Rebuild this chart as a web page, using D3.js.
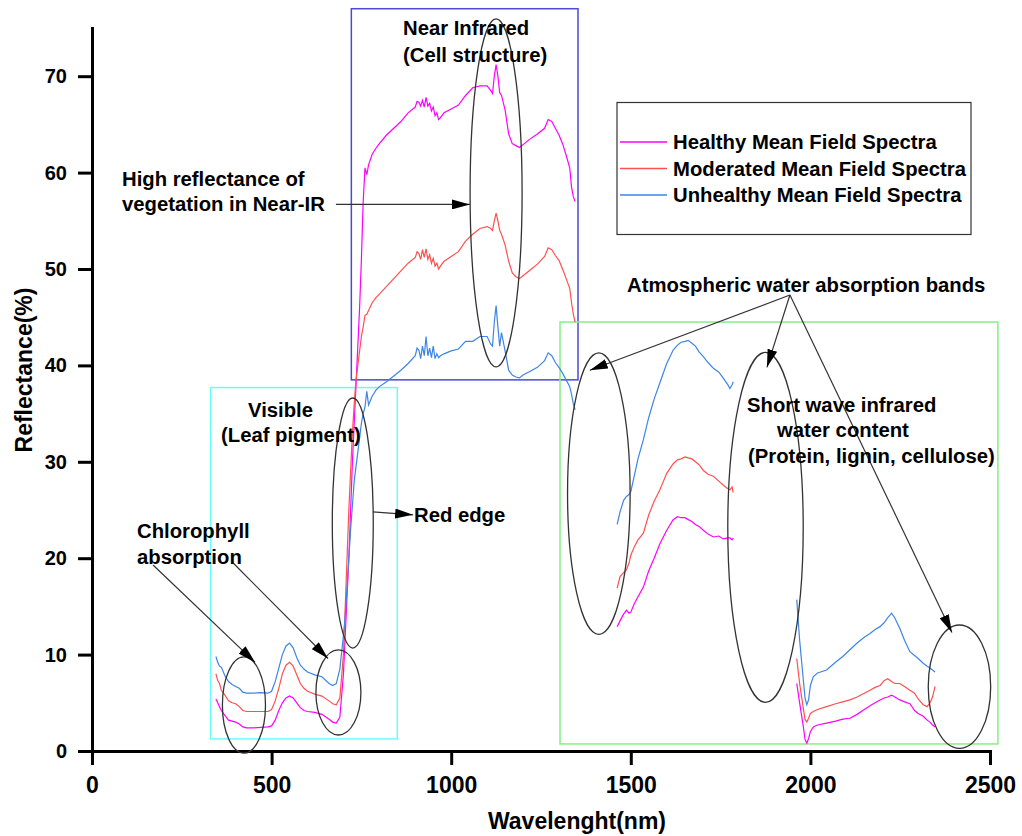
<!DOCTYPE html>
<html>
<head>
<meta charset="utf-8">
<script src="https://cdn.jsdelivr.net/npm/d3@7"></script>
<style>
body { margin: 0; background: #fff; }
svg { display: block; font-family: "Liberation Sans", Arial, sans-serif; font-weight: bold; }
</style>
</head>
<body>
<svg id="chart" width="1022" height="836"></svg>
<script>
// Visible + near infrared segment
const wlA = [345, 350, 355, 360, 370, 380, 390, 400, 410, 420, 430, 450, 470, 490, 500, 510, 520, 530, 540, 550,
  560, 570, 580, 590, 600, 620, 640, 660, 670, 680, 690, 700, 705, 710, 715, 720, 725, 730, 735, 740,
  745, 750, 755, 760, 765, 770, 780, 790, 800, 820, 840, 860, 880,
  900, 905, 910, 915, 920, 925, 930, 935, 940, 945, 950, 955, 960, 965, 970, 980,
  1000, 1020, 1040, 1060, 1080, 1100, 1110, 1115, 1120, 1125, 1130, 1135, 1140, 1150, 1160, 1170, 1180, 1190,
  1200, 1220, 1240, 1260, 1270, 1280, 1290, 1300, 1310, 1320, 1330, 1335, 1340, 1345];
const healthyA = [5.4, 5.0, 4.6, 4.2, 3.7, 3.2, 3.1, 3.0, 2.8, 2.5, 2.4, 2.4, 2.45, 2.5, 2.6, 3.2, 4.2, 5.0, 5.5, 5.7,
  5.5, 5.0, 4.5, 4.2, 4.1, 4.0, 3.8, 3.3, 3.0, 2.9, 3.5, 8, 12, 16, 20, 25, 30, 34, 38, 42,
  46, 51, 57, 60.5, 59.8, 60.8, 61.9, 62.5, 63.0, 63.9, 64.6, 65.3, 66.2,
  66.8, 67.4, 67.3, 66.9, 67.5, 66.8, 67.8, 66.9, 67.2, 66.4, 66.8, 65.9, 66.2, 65.5, 65.7, 66.2,
  66.6, 67.0, 68.0, 68.8, 69.0, 69.0, 68.5, 68.2, 70.0, 71.2, 70.0, 68.3, 68.0, 66.5, 64.0, 63.0, 62.8, 62.6,
  62.9, 63.5, 64.0, 64.6, 65.5, 65.3, 64.6, 63.9, 63.0, 61.8, 60.5, 58.5, 57.5, 57.0];
const moderatedA = [8.0, 7.3, 7.0, 6.3, 5.8, 5.2, 5.0, 4.9, 4.6, 4.2, 4.1, 4.1, 4.1, 4.1, 4.3, 5.2, 6.5, 8.0, 8.9, 9.2,
  8.8, 7.9, 7.0, 6.5, 6.2, 5.9, 5.7, 5.2, 4.9, 4.8, 5.5, 10, 15, 20, 25, 29, 33, 36, 38.5, 40,
  41.5, 43, 44, 45.2, 45.3, 45.7, 46.5, 47.0, 47.4, 48.2, 49.0, 49.8, 50.6,
  51.2, 51.8, 51.6, 51.0, 52.0, 51.2, 52.1, 51.0, 51.5, 50.6, 51.1, 50.3, 50.6, 50.0, 50.3, 50.8,
  51.3, 51.8, 52.9, 53.6, 54.2, 54.4, 54.2, 54.0, 55.0, 55.8, 55.0, 54.0, 53.6, 52.5, 50.8, 49.6, 49.2, 49.0,
  49.3, 49.9, 50.5, 51.3, 52.2, 52.0, 51.4, 50.9, 50.0, 49.0, 48.0, 46.5, 45.3, 44.5];
const unhealthyA = [9.8, 9.2, 8.8, 8.7, 7.8, 7.2, 6.9, 6.7, 6.5, 6.1, 6.0, 6.0, 6.05, 6.0, 6.2, 7.2, 8.6, 10.0, 10.9, 11.2,
  10.7, 9.7, 8.9, 8.5, 8.2, 7.9, 7.7, 7.0, 6.8, 7.0, 8.5, 12, 14, 17, 20, 23, 25.5, 28, 29.5, 31,
  32.5, 34, 35, 35.7, 37.3, 35.9, 36.8, 37.4, 37.8, 38.3, 38.9, 39.5, 40.2,
  41.0, 41.8, 41.6, 40.7, 42.0, 41.0, 43.0, 41.0, 41.8, 40.8, 42.0, 40.7, 41.2, 40.8, 41.0, 41.2,
  41.5, 41.7, 42.5, 42.5, 43.0, 43.0, 42.2, 42.0, 44.5, 46.2, 44.0, 42.0, 43.4, 41.5, 39.5, 39.0, 38.8, 38.7,
  39.0, 39.4, 39.8, 40.5, 41.3, 41.0, 40.3, 39.8, 39.2, 38.5, 37.8, 37.0, 36.0, 35.4];

// Short wave infrared, first window
const wlB = [1462, 1470, 1480, 1488, 1495, 1500, 1510, 1520, 1535, 1550, 1565, 1581, 1600, 1618, 1630,
  1640, 1651, 1660, 1670, 1680, 1690, 1702, 1715, 1730, 1745, 1757, 1770, 1776, 1782, 1785];
const healthyB = [12.9, 13.5, 14.2, 14.6, 14.3, 14.4, 15.3, 16.0, 17.0, 18.7, 20.0, 21.5, 22.9, 24.0, 24.3,
  24.2, 24.2, 24.0, 23.8, 23.5, 23.3, 22.9, 22.5, 22.2, 22.3, 22.0, 22.1, 22.1, 21.9, 22.1];
const moderatedB = [16.9, 18.1, 18.5, 18.8, 19.5, 20.3, 21.2, 21.9, 22.6, 24.5, 25.9, 27.1, 28.8, 29.8, 30.2,
  30.3, 30.5, 30.4, 30.3, 30.0, 29.7, 29.1, 28.7, 28.5, 28.0, 27.6, 27.2, 27.1, 27.4, 26.8];
const unhealthyB = [23.5, 24.8, 26.0, 26.4, 26.6, 26.9, 28.6, 30.3, 32.3, 34.6, 36.5, 38.2, 40.2, 41.6, 42.1,
  42.4, 42.5, 42.6, 42.3, 42.0, 41.4, 40.9, 40.3, 39.7, 39.3, 38.7, 38.0, 37.6, 38.0, 38.3];

// Short wave infrared, second window
const wlC = [1962, 1970, 1980, 1985, 1990, 1995, 2000, 2008, 2020, 2045, 2070, 2090, 2110, 2130, 2150, 2166,
  2180, 2194, 2205, 2215, 2226, 2235, 2249, 2262, 2277, 2290, 2300, 2314, 2325, 2333, 2340, 2347];
const healthyC = [7.0, 5.0, 2.6, 1.2, 0.8, 1.3, 2.0, 2.5, 2.7, 2.9, 3.1, 3.3, 3.4, 3.8, 4.3, 4.7,
  5.0, 5.3, 5.5, 5.6, 5.8, 5.6, 5.3, 5.1, 4.9, 4.2, 3.9, 3.6, 3.2, 3.0, 2.7, 2.5];
const moderatedC = [9.6, 7.0, 4.5, 3.3, 3.0, 3.4, 3.9, 4.1, 4.3, 4.6, 4.9, 5.1, 5.3, 5.6, 6.0, 6.3,
  6.6, 6.8, 7.3, 7.5, 7.2, 7.0, 7.0, 6.7, 6.3, 6.0, 5.4, 4.8, 4.6, 5.0, 5.6, 6.7];
const unhealthyC = [15.7, 11.5, 7.5, 5.5, 4.8, 5.3, 6.8, 7.7, 8.1, 8.4, 9.2, 9.8, 10.5, 11.2, 11.8, 12.2,
  12.6, 12.9, 13.3, 13.8, 14.3, 13.8, 12.7, 11.5, 10.3, 9.9, 9.6, 9.1, 8.8, 8.6, 8.4, 8.2];

const seriesNames = ['Healthy Mean Field Spectra', 'Moderated Mean Field Spectra', 'Unhealthy Mean Field Spectra'];
const seriesColors = ['#ff00ff', '#ff5050', '#3d85e6'];
const xTicks = [0, 500, 1000, 1500, 2000, 2500];
const yTicks = [0, 10, 20, 30, 40, 50, 60, 70];

const svg = d3.select('#chart');
const x = d3.scaleLinear().domain([0, 2500]).range([92, 990]);
const y = d3.scaleLinear().domain([0, 75]).range([751, 28]);

// Function to pair wavelengths with values
function pairs(wl, vals) {
    return wl.map((w, i) => [w, vals[i]]);
}

const seriesData = [
    [pairs(wlA, healthyA), pairs(wlB, healthyB), pairs(wlC, healthyC)],
    [pairs(wlA, moderatedA), pairs(wlB, moderatedB), pairs(wlC, moderatedC)],
    [pairs(wlA, unhealthyA), pairs(wlB, unhealthyB), pairs(wlC, unhealthyC)]
];

// Region boxes: [x0, x1, y0, y1] in data units
const boxes = [
    { r: [330, 850, 1.25, 37.7], c: '#66ffff' },
    { r: [722, 1353, 38.5, 77], c: '#4a4ad6' },
    { r: [1303, 2522, 0.73, 44.5], c: '#88ee88' }
];
svg.selectAll('rect.box')
    .data(boxes)
    .enter()
    .append('rect')
    .attr('class', 'box')
    .attr('x', d => x(d.r[0]))
    .attr('y', d => y(d.r[3]))
    .attr('width', d => x(d.r[1]) - x(d.r[0]))
    .attr('height', d => y(d.r[2]) - y(d.r[3]))
    .attr('fill', 'none')
    .attr('stroke', d => d.c)
    .attr('stroke-width', 1.5);

// Spectra
const line = d3.line().x(d => x(d[0])).y(d => y(d[1]));
seriesData.forEach((segs, i) => {
    svg.append('g')
        .selectAll('path')
        .data(segs)
        .enter()
        .append('path')
        .attr('d', line)
        .attr('fill', 'none')
        .attr('stroke', seriesColors[i])
        .attr('stroke-width', 1.2);
});

// Axes
const xAxis = svg.append('g').attr('transform', 'translate(0,751)');
xAxis.call(d3.axisBottom(x).tickValues(d3.range(250, 2500, 500)).tickSize(7).tickSizeOuter(0).tickFormat(''));
xAxis.call(d3.axisBottom(x).tickValues(xTicks).tickSize(14).tickSizeOuter(0).tickPadding(12).tickFormat(d3.format('d')));
xAxis.selectAll('path, line').attr('stroke', '#000').attr('stroke-width', 3);
xAxis.selectAll('text').attr('font-size', 23).attr('fill', '#000');

const yAxis = svg.append('g').attr('transform', 'translate(92,0)');
yAxis.call(d3.axisLeft(y).tickValues(d3.range(5, 80, 10)).tickSize(7).tickSizeOuter(0).tickFormat(''));
yAxis.call(d3.axisLeft(y).tickValues(yTicks).tickSize(14).tickSizeOuter(0).tickPadding(11));
yAxis.selectAll('path, line').attr('stroke', '#000').attr('stroke-width', 3);
yAxis.selectAll('text').attr('font-size', 20).attr('fill', '#000');
svg.selectAll('.domain').attr('stroke-linecap', 'square');

svg.append('text').attr('x', 577).attr('y', 829).attr('text-anchor', 'middle')
    .attr('font-size', 23).text('Wavelenght(nm)');
svg.append('text').attr('transform', 'translate(32,370) rotate(-90)').attr('text-anchor', 'middle')
    .attr('font-size', 23).text('Reflectance(%)');

// Ellipses: [cx, cy, rx, ry] in data units
const ellipses = [
    [423, 4.77, 60, 5.0],
    [686, 6.07, 62.6, 4.41],
    [726, 23.65, 57, 12.97],
    [1125, 57.9, 72.4, 18.05],
    [1411, 26.7, 87.1, 14.6],
    [1875, 23.2, 105, 18.15],
    [2415, 6.67, 86.9, 6.4]
];
svg.selectAll('ellipse')
    .data(ellipses)
    .enter()
    .append('ellipse')
    .attr('cx', d => x(d[0]))
    .attr('cy', d => y(d[1]))
    .attr('rx', d => x(d[2]) - x(0))
    .attr('ry', d => y(0) - y(d[3]))
    .attr('fill', 'none')
    .attr('stroke', '#333')
    .attr('stroke-width', 1.3);

// Arrows: [fromX, fromY, toX, toY] in data units
svg.append('defs').append('marker')
    .attr('id', 'head')
    .attr('markerUnits', 'userSpaceOnUse')
    .attr('markerWidth', 18).attr('markerHeight', 10)
    .attr('refX', 18).attr('refY', 5)
    .attr('orient', 'auto')
    .append('path').attr('d', 'M0,0L18,5L0,10z').attr('fill', '#000');

const arrows = [
    [679, 56.7, 1052, 56.7],
    [782, 24.8, 894, 24.5],
    [170, 19.3, 454, 9.2],
    [393, 19.5, 657, 9.6],
    [1943, 47.3, 1386, 39.5],
    [1943, 47.3, 1879, 39.8],
    [1943, 47.3, 2394, 12.3]
];
svg.selectAll('line.arrow')
    .data(arrows)
    .enter()
    .append('line')
    .attr('class', 'arrow')
    .attr('x1', d => x(d[0])).attr('y1', d => y(d[1]))
    .attr('x2', d => x(d[2])).attr('y2', d => y(d[3]))
    .attr('stroke', '#333')
    .attr('stroke-width', 1.2)
    .attr('marker-end', 'url(#head)');

// Annotation text
const notes = [
    ['Near Infrared', 403, 35],
    ['(Cell structure)', 403, 62],
    ['High reflectance of', 122, 186],
    ['vegetation in Near-IR', 122, 211],
    ['Visible', 248, 417],
    ['(Leaf pigment)', 221, 442],
    ['Red edge', 414, 522],
    ['Chlorophyll', 137, 538],
    ['absorption', 137, 564],
    ['Atmospheric water absorption bands', 627, 292],
    ['Short wave infrared', 747, 412],
    ['water content', 777, 437],
    ['(Protein, lignin, cellulose)', 748, 463]
];
svg.selectAll('text.note')
    .data(notes)
    .enter()
    .append('text')
    .attr('class', 'note')
    .attr('x', d => d[1]).attr('y', d => d[2])
    .attr('font-size', 20.3)
    .text(d => d[0]);

// Legend
const legend = svg.append('g');
legend.append('rect').attr('x', 617).attr('y', 102.5).attr('width', 354).attr('height', 132)
    .attr('fill', '#fff').attr('stroke', '#333').attr('stroke-width', 1.2);
seriesNames.forEach((name, i) => {
    const ly = 142 + i * 26.5;
    legend.append('line').attr('x1', 620).attr('x2', 667).attr('y1', ly).attr('y2', ly)
        .attr('stroke', seriesColors[i]).attr('stroke-width', 1.5);
    legend.append('text').attr('x', 673).attr('y', ly).attr('dy', '0.35em')
        .attr('font-size', 20.3).text(name);
});
</script>
</body>
</html>
